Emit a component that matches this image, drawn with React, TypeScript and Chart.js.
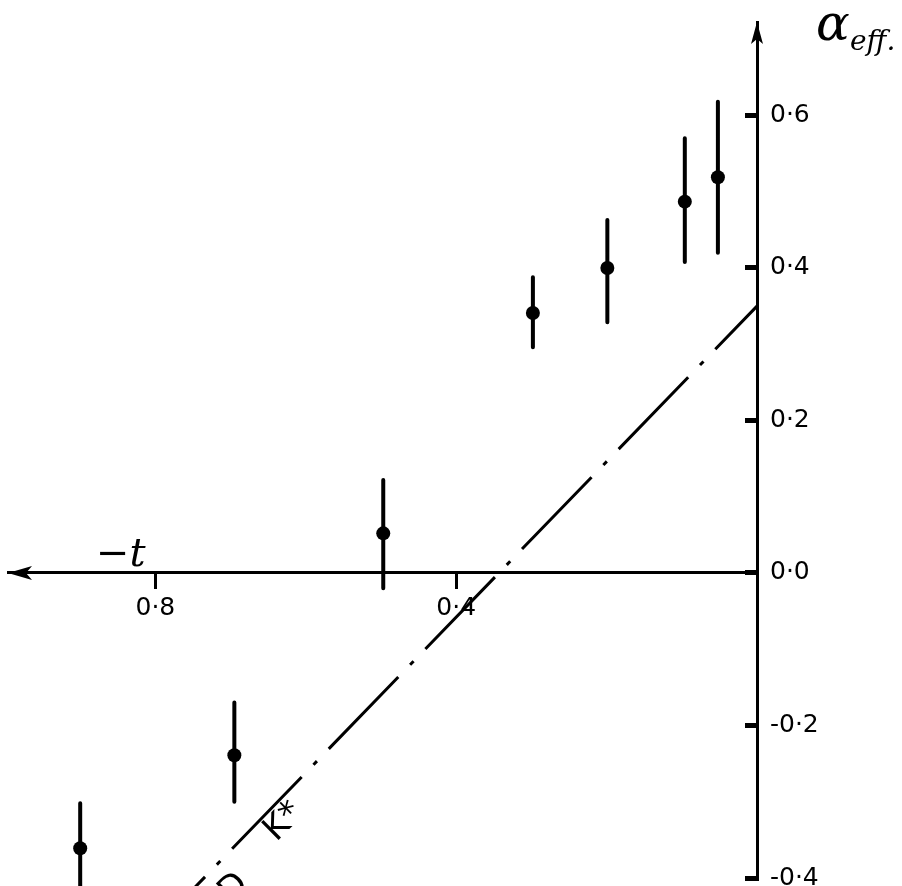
import React, { useEffect, useRef } from "react";
import { Chart, registerables } from "chart.js";

Chart.register(...registerables);

// -t values of the measured points
const T_VALUES = [0.052, 0.096, 0.199, 0.298, 0.497, 0.695, 0.9];
// alpha_eff central values
const ALPHA_VALUES = [0.519, 0.487, 0.4, 0.341, 0.052, -0.239, -0.361];
// error bar ends
const ALPHA_HIGH = [0.618, 0.57, 0.463, 0.388, 0.122, -0.17, -0.302];
const ALPHA_LOW = [0.42, 0.408, 0.329, 0.296, -0.02, -0.3, -0.45];
// K* trajectory line
const LINE_T = [0, 0.76];
const LINE_ALPHA = [0.35, -0.425];
// axis ticks
const X_TICKS = [0.4, 0.8];
const X_TICK_LABELS = ["0·4", "0·8"];
const Y_TICKS = [-0.4, -0.2, 0, 0.2, 0.4, 0.6];
const Y_TICK_LABELS = ["-0·4", "-0·2", "0·0", "0·2", "0·4", "0·6"];

const decorPlugin = {
  id: "decor",
  afterDraw(chart: any) {
    const { ctx, chartArea, scales } = chart;
    const x0 = scales.x.getPixelForValue(0);
    const y0 = scales.y.getPixelForValue(0);
    ctx.save();
    ctx.fillStyle = "#000";
    // arrow on the -t axis (left end)
    const lx = chartArea.left;
    ctx.beginPath();
    ctx.moveTo(lx, y0);
    ctx.lineTo(lx + 24, y0 - 7);
    ctx.lineTo(lx + 18, y0);
    ctx.lineTo(lx + 24, y0 + 7);
    ctx.closePath();
    ctx.fill();
    // arrow on the alpha axis (top end)
    const ty = chartArea.top;
    ctx.beginPath();
    ctx.moveTo(x0, ty);
    ctx.lineTo(x0 - 6, ty + 22);
    ctx.lineTo(x0, ty + 17);
    ctx.lineTo(x0 + 6, ty + 22);
    ctx.closePath();
    ctx.fill();

    // axis titles
    ctx.textBaseline = "alphabetic";
    ctx.textAlign = "left";
    ctx.font = 'italic 50px "DejaVu Serif"';
    ctx.fillText("α", 816, 40);
    ctx.font = 'italic 28px "DejaVu Serif"';
    ctx.fillText("eff.", 850, 50);
    ctx.font = 'italic 40px "DejaVu Serif"';
    ctx.fillText("−t", 96, 566);

    // line labels, written along the line
    ctx.textAlign = "center";
    ctx.textBaseline = "middle";
    ctx.font = '34px "DejaVu Sans"';
    ctx.save();
    ctx.translate(284, 822);
    ctx.rotate(-Math.PI / 4);
    ctx.fillText("K*", 0, 0);
    ctx.restore();
    ctx.save();
    ctx.translate(234, 888);
    ctx.rotate(-Math.PI / 4);
    ctx.fillText("D", 0, 0);
    ctx.restore();
    ctx.restore();
  },
};

export default function App() {
  const ref = useRef<HTMLCanvasElement>(null);

  useEffect(() => {
    const canvas = ref.current;
    if (!canvas) return;

    const errorData: any[] = [];
    T_VALUES.forEach((t, i) => {
      errorData.push({ x: t, y: ALPHA_LOW[i] });
      errorData.push({ x: t, y: ALPHA_HIGH[i] });
      errorData.push({ x: t, y: null });
    });

    const chart = new Chart(canvas, {
      type: "scatter",
      data: {
        datasets: [
          {
            label: "K*",
            data: LINE_T.map((t, i) => ({ x: t, y: LINE_ALPHA[i] })),
            showLine: true,
            borderColor: "#000",
            borderWidth: 3,
            borderDash: [100, 17, 5, 17],
            borderDashOffset: 40,
            borderCapStyle: "butt",
            pointRadius: 0,
            clip: false,
          } as any,
          {
            label: "errors",
            data: errorData,
            showLine: true,
            spanGaps: false,
            borderColor: "#000",
            borderWidth: 4,
            borderCapStyle: "round",
            pointRadius: 0,
            clip: false,
          } as any,
          {
            label: "alpha_eff",
            data: T_VALUES.map((t, i) => ({ x: t, y: ALPHA_VALUES[i] })),
            pointRadius: 7,
            pointBackgroundColor: "#000",
            pointBorderColor: "#000",
            pointBorderWidth: 0,
            clip: false,
          } as any,
        ],
      },
      options: {
        animation: false,
        responsive: true,
        maintainAspectRatio: false,
        events: [],
        layout: { padding: { left: 8, top: 22, right: 5, bottom: 8 } },
        plugins: { legend: { display: false }, tooltip: { enabled: false } },
        scales: {
          x: {
            type: "linear",
            reverse: true,
            min: 0,
            max: 0.996,
            position: { y: 0 } as any,
            border: { display: true, color: "#000", width: 3 },
            grid: {
              drawOnChartArea: false,
              drawTicks: true,
              tickLength: 15,
              tickWidth: 3,
              tickColor: "#000",
            },
            ticks: {
              color: "#000",
              font: { family: "DejaVu Sans", size: 25 },
              padding: 6,
              maxRotation: 0,
              callback: (_v: any, i: number) => X_TICK_LABELS[i],
            },
            afterBuildTicks: (scale: any) => {
              scale.ticks = X_TICKS.map((v) => ({ value: v }));
            },
            afterFit: (scale: any) => {
              scale.paddingLeft = 0;
              scale.paddingRight = 0;
            },
          } as any,
          y: {
            type: "linear",
            min: -0.4,
            max: 0.7226,
            position: "right",
            border: { display: true, color: "#000", width: 3 },
            grid: {
              drawOnChartArea: false,
              drawTicks: true,
              tickLength: -12,
              tickWidth: 5,
              tickColor: "#000",
            },
            ticks: {
              color: "#000",
              font: { family: "DejaVu Sans", size: 25 },
              padding: 25,
              crossAlign: "near",
              callback: (_v: any, i: number) => Y_TICK_LABELS[i],
            },
            afterBuildTicks: (scale: any) => {
              scale.ticks = Y_TICKS.map((v) => ({ value: v }));
            },
            afterFit: (scale: any) => {
              scale.width = 140;
              scale.paddingTop = 0;
              scale.paddingBottom = 0;
            },
          } as any,
        },
      },
      plugins: [decorPlugin],
    });

    return () => chart.destroy();
  }, []);

  return (
    <div
      style={{
        position: "fixed",
        left: 0,
        top: 0,
        width: 902,
        height: 886,
        background: "#fff",
      }}
    >
      <canvas ref={ref} />
    </div>
  );
}
